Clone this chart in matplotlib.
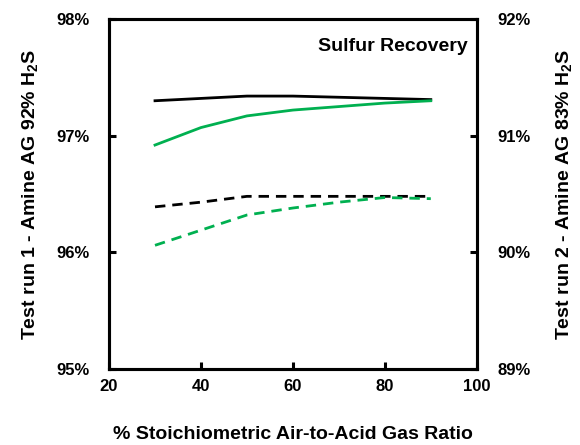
import matplotlib
matplotlib.use("Agg")
import matplotlib.pyplot as plt
from matplotlib.ticker import FuncFormatter

plt.rcParams['font.family'] = ['Liberation Sans', 'DejaVu Sans']
plt.rcParams['font.weight'] = 'bold'
plt.rcParams['mathtext.fontset'] = 'custom'
plt.rcParams['mathtext.rm'] = 'Liberation Sans:bold'
plt.rcParams['mathtext.bf'] = 'Liberation Sans:bold'
plt.rcParams['mathtext.default'] = 'rm'
plt.rcParams['lines.scale_dashes'] = False

# Data
air_ratio = [30, 40, 50, 60, 70, 80, 90]
run1_black = [97.30, 97.32, 97.34, 97.34, 97.33, 97.32, 97.31]
run1_green = [96.92, 97.07, 97.17, 97.22, 97.25, 97.28, 97.30]
run2_black = [90.39, 90.43, 90.48, 90.48, 90.48, 90.48, 90.48]
run2_green = [90.06, 90.19, 90.32, 90.38, 90.43, 90.47, 90.46]
x_ticks = [20, 40, 60, 80, 100]
left_ticks = [95, 96, 97, 98]
right_ticks = [89, 90, 91, 92]

GREEN = '#00B050'

fig = plt.figure(figsize=(5.8, 4.45), dpi=100)
ax = fig.add_axes([0.188, 0.171, 0.634, 0.786])
ax2 = ax.twinx()

ax.plot(air_ratio, run1_black, color='black', lw=2.0)
ax.plot(air_ratio, run1_green, color=GREEN, lw=2.0)
ax2.plot(air_ratio, run2_black, color='black', lw=2.0, linestyle=(0, (7.5, 5)))
ax2.plot(air_ratio, run2_green, color=GREEN, lw=2.0, linestyle=(0, (7.5, 5)))

ax.set_xlim(20, 100)
ax.set_ylim(95, 98)
ax2.set_ylim(89, 92)
ax.set_xticks(x_ticks)
ax.set_yticks(left_ticks)
ax2.set_yticks(right_ticks)
pct = FuncFormatter(lambda v, p: f"{v:.0f}%")
ax.yaxis.set_major_formatter(pct)
ax2.yaxis.set_major_formatter(pct)

for a in (ax, ax2):
    for s in a.spines.values():
        s.set_linewidth(2.2)
    a.tick_params(direction='in', length=5, width=2.2, labelsize=12)
ax.tick_params(axis='y', pad=14)
ax2.tick_params(axis='y', pad=15)
ax.tick_params(axis='x', pad=7)
for lab in ax.get_xticklabels() + ax.get_yticklabels() + ax2.get_yticklabels():
    lab.set_fontweight('bold')

ax.set_xlabel('% Stoichiometric Air-to-Acid Gas Ratio', fontsize=14, fontweight='bold', labelpad=23)
ax.set_ylabel(r'Test run 1 - Amine AG 92% H$_2$S', fontsize=14, fontweight='bold', labelpad=12)
ax2.set_ylabel(r'Test run 2 - Amine AG 83% H$_2$S', fontsize=14, fontweight='bold', labelpad=17)

ax.text(0.975, 0.945, 'Sulfur Recovery', transform=ax.transAxes, ha='right', va='top',
        fontsize=14, fontweight='bold')

fig.savefig('out.png', dpi=100)
